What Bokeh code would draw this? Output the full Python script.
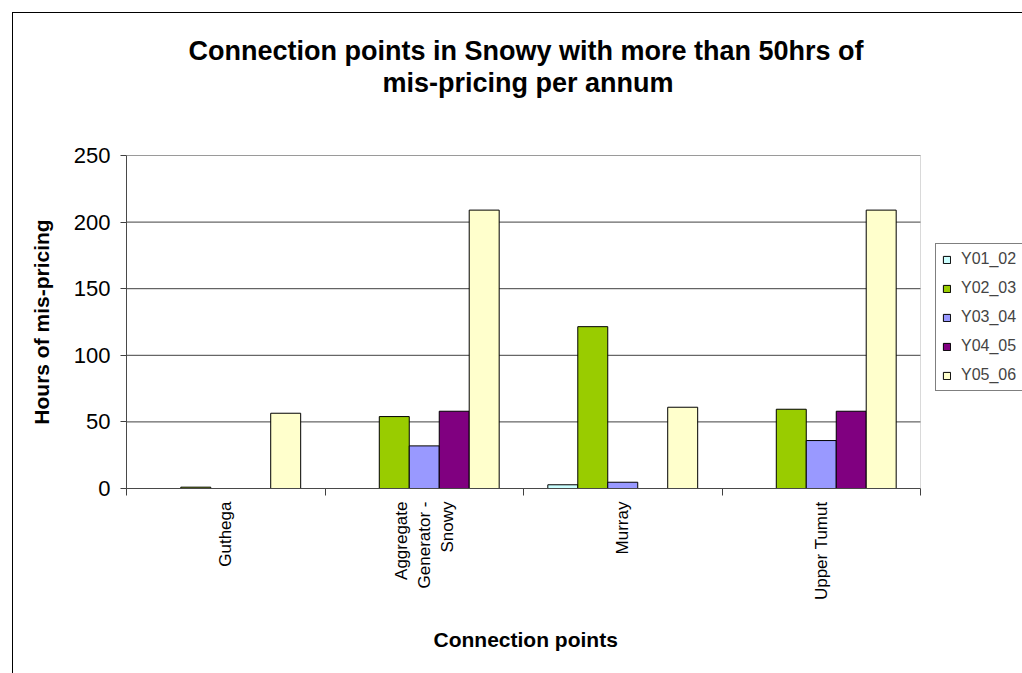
import numpy as np
from bokeh.plotting import figure
from bokeh.models import (Range1d, FixedTicker, Legend, LegendItem, ColumnDataSource, Title,
                          BoxAnnotation)
from bokeh.transform import dodge
from bokeh.embed import file_html
from bokeh.resources import INLINE

categories = ["Guthega", "Aggregate\nGenerator -\nSnowy", "Murray", "Upper Tumut"]
series = ["Y01_02", "Y02_03", "Y03_04", "Y04_05", "Y05_06"]
y01_02 = [0, 0, 2.8, 0]
y02_03 = [1, 54, 121.5, 59.5]
y03_04 = [0, 32, 4.7, 36]
y04_05 = [0, 58, 0, 58]
y05_06 = [56.5, 209, 61, 209]
colors = ["#CCFFFF", "#99CC00", "#9999FF", "#800080", "#FFFFCC"]
yticks = [0, 50, 100, 150, 200, 250]
title_lines = ["Connection points in Snowy with more than 50hrs of", "mis-pricing per annum"]
x_title = "Connection points"
y_title = "Hours of mis-pricing"

FONT = "Liberation Sans"
L, T, B = 126, 155, 185
PLOT_W, FRAME_W, FRAME_H = 794, 896, 333   # plot area width; frame extends to the window edge
n = len(categories)

xc = np.arange(n) + 0.5
src = ColumnDataSource(dict(x=xc, Y01_02=y01_02, Y02_03=y02_03, Y03_04=y03_04,
                            Y04_05=y04_05, Y05_06=y05_06))

p = figure(frame_width=FRAME_W, frame_height=FRAME_H, output_backend="svg",
           toolbar_location=None, title=None,
           x_range=Range1d(0, n * FRAME_W / PLOT_W), y_range=Range1d(0, yticks[-1]),
           min_border_left=L, min_border_right=0, min_border_top=T, min_border_bottom=B)
p.background_fill_color = "white"
p.border_fill_color = None
p.outline_line_color = None
p.styles = {
    "background": ("linear-gradient(black, black) 12px 12px / 1px 100% no-repeat, "
                   "linear-gradient(black, black) 12px 12px / 100% 1px no-repeat, white"),
}

def title(text, size, standoff, offset):
    return Title(text=text, text_font=FONT, text_font_size=size, text_font_style="bold",
                 align="left", text_color="black", standoff=standoff, offset=offset)

# spacer nearest the frame, then the two title lines
p.add_layout(title(" ", "26px", 26, 0), "above")
p.add_layout(title(title_lines[1], "27px", 0, 256), "above")
p.add_layout(title(title_lines[0], "27px", 0, 62), "above")

# horizontal gridlines limited to the plot area
p.segment(x0=0, x1=n, y0=yticks[1:], y1=yticks[1:], line_color="#404040", line_width=1)

bw = 0.151
renderers = []
for i, (s, c) in enumerate(zip(series, colors)):
    r = p.vbar(x=dodge("x", (i - 2) * bw), top=s, width=bw, source=src,
               fill_color=c, line_color="black", line_width=1)
    renderers.append(r)

# plot-area outline
p.add_layout(BoxAnnotation(left=0, right=n, bottom=0, top=yticks[-1], fill_color=None,
                           line_color="#808080", line_width=1))

p.xgrid.grid_line_color = None
p.ygrid.grid_line_color = None

ya = p.yaxis[0]
ya.ticker = FixedTicker(ticks=yticks)
ya.axis_line_color = "#404040"
ya.major_tick_line_color = "#404040"
ya.major_tick_out = 6
ya.major_tick_in = 0
ya.minor_tick_line_color = None
ya.major_label_text_font = FONT
ya.major_label_text_font_size = "22px"
ya.major_label_text_color = "black"
ya.major_label_standoff = 10
ya.axis_label = y_title
ya.axis_label_text_font = FONT
ya.axis_label_text_font_size = "21px"
ya.axis_label_text_font_style = "bold"
ya.axis_label_text_color = "black"
ya.axis_label_standoff = 18

xa = p.xaxis[0]
xa.bounds = (0, n)
xa.ticker = FixedTicker(ticks=list(xc), minor_ticks=list(range(n + 1)))
xa.major_label_overrides = {float(x): c for x, c in zip(xc, categories)}
xa.major_label_orientation = np.pi / 2
xa.major_tick_line_color = None
xa.major_tick_out = 0
xa.minor_tick_line_color = "#404040"
xa.minor_tick_out = 7
xa.minor_tick_in = 0
xa.axis_line_color = "#404040"
xa.major_label_text_font = FONT
xa.major_label_text_font_size = "17px"
xa.major_label_text_color = "black"
xa.major_label_standoff = 6
p.add_layout(title(x_title, "21px", 44, 307), "below")

legend = Legend(items=[LegendItem(label=s, renderers=[r]) for s, r in zip(series, renderers)],
                location=(935 - L, 97), label_text_font=FONT, label_text_font_size="16px",
                glyph_width=9, glyph_height=9, label_height=16, spacing=11,
                padding=6, margin=0, border_line_color="black", border_line_width=1,
                background_fill_alpha=1.0, label_standoff=10)
p.add_layout(legend, "center")

open("out.html", "w").write(file_html(p, INLINE))
